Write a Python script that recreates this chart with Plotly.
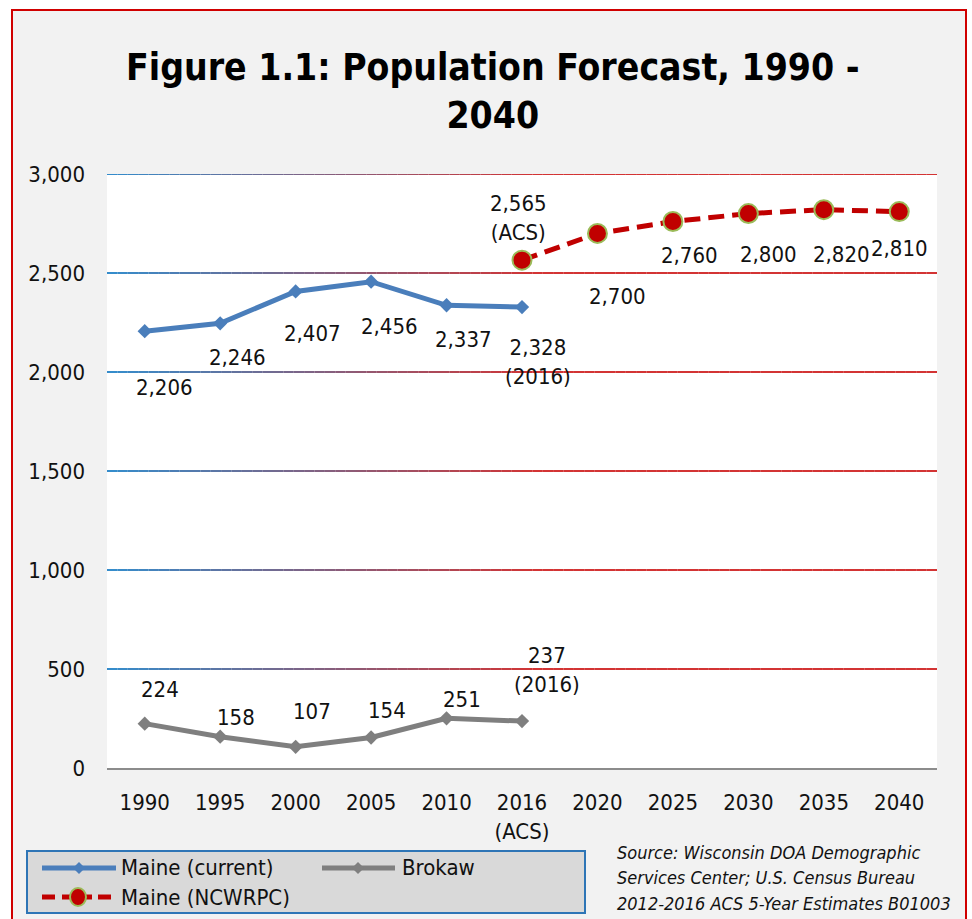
import plotly.graph_objects as go

# ---------------- data ----------------
years = ["1990", "1995", "2000", "2005", "2010", "2016<br>(ACS)",
         "2020", "2025", "2030", "2035", "2040"]
maine_current_idx = [0, 1, 2, 3, 4, 5]
maine_current = [2206, 2246, 2407, 2456, 2337, 2328]
brokaw_idx = [0, 1, 2, 3, 4, 5]
brokaw = [224, 158, 107, 154, 251, 237]
ncwrpc_idx = [5, 6, 7, 8, 9, 10]
ncwrpc = [2565, 2700, 2760, 2800, 2820, 2810]

maine_current_labels = ["2,206", "2,246", "2,407", "2,456", "2,337", "2,328<br>(2016)"]
brokaw_labels = ["224", "158", "107", "154", "251", "237<br>(2016)"]
ncwrpc_labels = ["2,565<br>(ACS)", "2,700", "2,760", "2,800", "2,820", "2,810"]

yticks = [0, 500, 1000, 1500, 2000, 2500, 3000]

# label offsets in pixels (style)
mc_shift = [(20, -56), (17, -34), (17, -42), (18, -45), (17, -34), (16, -55)]
br_shift = [(15, 34), (16, 19), (16, 35), (16, 27), (15, 19), (25, 51)]
nc_shift = [(-4, 42), (20, -63), (17, -34), (20, -41), (18, -45), (0, -37)]

# ---------------- layout geometry ----------------
W, H = 972, 919
L, R, T, B = 107, 35, 174, 151
PW = W - L - R
PH = H - T - B
FONT = "DejaVu Sans Condensed, Liberation Sans Narrow, Liberation Sans, Arial"
TXT = "#111111"
FS = 22


def px(x):
    return (x - L) / PW


def py(y):
    return (H - B - y) / PH


fig = go.Figure()

fig.add_trace(go.Scatter(
    x=brokaw_idx, y=brokaw, mode="lines+markers", name="Brokaw",
    line=dict(color="#7f7f7f", width=5),
    marker=dict(symbol="diamond", size=11, color="#7f7f7f"),
    showlegend=False, hoverinfo="skip"))
fig.add_trace(go.Scatter(
    x=maine_current_idx, y=maine_current, mode="lines+markers", name="Maine (current)",
    line=dict(color="#4a7ebb", width=5),
    marker=dict(symbol="diamond", size=11, color="#4a7ebb"),
    showlegend=False, hoverinfo="skip"))
fig.add_trace(go.Scatter(
    x=ncwrpc_idx, y=ncwrpc, mode="lines+markers", name="Maine (NCWRPC)",
    line=dict(color="#c00000", width=5, dash="16px,8px"),
    marker=dict(symbol="circle", size=19, color="#c00000",
                line=dict(color="#9bbb59", width=2)),
    showlegend=False, hoverinfo="skip"))

# gradient gridlines
nseg = 80
blue = (0, 112, 192)
red = (200, 0, 0)
x0, x1 = -0.5, len(years) - 0.5
for yv in yticks[1:]:
    for i in range(nseg):
        a = x0 + (x1 - x0) * i / nseg
        b = x0 + (x1 - x0) * (i + 1) / nseg
        f = (i + 0.5) / nseg
        t = min(f / 0.52, 1.0)
        c = tuple(int(round(blue[k] + (red[k] - blue[k]) * t)) for k in range(3))
        fig.add_shape(type="line", xref="x", yref="y", x0=a, x1=b, y0=yv, y1=yv,
                      line=dict(color="rgb(%d,%d,%d)" % c, width=1.6), layer="below")

annotations = []


def add_labels(idx, vals, labels, shifts):
    for xi, yv, lab, (dx, dy) in zip(idx, vals, labels, shifts):
        annotations.append(dict(x=xi, y=yv, xref="x", yref="y", text=lab,
                                showarrow=False, xshift=dx, yshift=dy,
                                font=dict(family=FONT, size=FS, color=TXT),
                                xanchor="center", yanchor="middle"))


add_labels(maine_current_idx, maine_current, maine_current_labels, mc_shift)
add_labels(brokaw_idx, brokaw, brokaw_labels, br_shift)
add_labels(ncwrpc_idx, ncwrpc, ncwrpc_labels, nc_shift)

# title
annotations.append(dict(x=px(493), y=py(91), xref="paper", yref="paper",
                        text="<b>Figure 1.1: Population Forecast, 1990 -<br>2040</b>",
                        showarrow=False, xanchor="center", yanchor="middle",
                        font=dict(family=FONT, size=37, color="#000000")))

# source
src_lines = ["Source: Wisconsin DOA Demographic",
             "Services Center; U.S. Census Bureau",
             "2012-2016 ACS 5-Year Estimates B01003"]
for i, s in enumerate(src_lines):
    annotations.append(dict(x=px(615), y=py(852 + 25.5 * i), xref="paper", yref="paper",
                            text="<i>" + s + "</i>", showarrow=False,
                            xanchor="left", yanchor="middle",
                            font=dict(family=FONT, size=18, color=TXT)))

# legend (manual)
shapes = []
shapes.append(dict(type="rect", xref="paper", yref="paper",
                   x0=px(27), x1=px(585), y0=py(851), y1=py(913),
                   fillcolor="#d9d9d9", line=dict(color="#2e75b6", width=2), layer="above"))


def diamond(cx, cy, r, color):
    path = "M %f %f L %f %f L %f %f L %f %f Z" % (
        px(cx), py(cy - r), px(cx + r), py(cy), px(cx), py(cy + r), px(cx - r), py(cy))
    return dict(type="path", xref="paper", yref="paper", path=path,
                fillcolor=color, line=dict(color=color, width=0), layer="above")


shapes.append(dict(type="line", xref="paper", yref="paper", x0=px(42), x1=px(116),
                   y0=py(868), y1=py(868), line=dict(color="#4a7ebb", width=5), layer="above"))
shapes.append(diamond(79, 868, 6, "#4a7ebb"))
shapes.append(dict(type="line", xref="paper", yref="paper", x0=px(322), x1=px(395),
                   y0=py(868), y1=py(868), line=dict(color="#7f7f7f", width=5), layer="above"))
shapes.append(diamond(358, 868, 6, "#7f7f7f"))
for a, b in [(42, 55), (98, 111)]:
    shapes.append(dict(type="line", xref="paper", yref="paper", x0=px(a), x1=px(b),
                       y0=py(897), y1=py(897), line=dict(color="#c00000", width=5),
                       layer="above"))
shapes.append(dict(type="line", xref="paper", yref="paper", x0=px(62), x1=px(92),
                   y0=py(897), y1=py(897), line=dict(color="#c00000", width=5), layer="above"))
shapes.append(dict(type="circle", xref="paper", yref="paper",
                   x0=px(70), x1=px(86), y0=py(906), y1=py(888),
                   fillcolor="#c00000", line=dict(color="#9bbb59", width=2), layer="above"))

for txt, xx, yy in [("Maine (current)", 119, 868), ("Brokaw", 400, 868),
                    ("Maine (NCWRPC)", 119, 897)]:
    annotations.append(dict(x=px(xx), y=py(yy), xref="paper", yref="paper", text=txt,
                            showarrow=False, xanchor="left", yanchor="middle",
                            font=dict(family=FONT, size=FS, color=TXT)))

# white page margins outside the red frame
for (a, b, c, d) in [(0, 12, -20, 940), (966, 972, -20, 940), (0, 972, -20, 10)]:
    shapes.append(dict(type="rect", xref="paper", yref="paper",
                       x0=px(a), x1=px(b), y0=py(d), y1=py(c),
                       fillcolor="#ffffff", line=dict(width=0), layer="above"))
shapes.append(dict(type="rect", xref="paper", yref="paper",
                   x0=px(12), x1=px(966), y0=py(935), y1=py(10),
                   fillcolor="rgba(0,0,0,0)", line=dict(color="#d00000", width=2),
                   layer="above"))

for s in shapes:
    fig.add_shape(**s)

fig.update_layout(
    width=W, height=H,
    margin=dict(l=L, r=R, t=T, b=B, pad=0),
    paper_bgcolor="#f2f2f2", plot_bgcolor="#ffffff",
    showlegend=False,
    annotations=annotations,
    font=dict(family=FONT, size=FS, color=TXT),
    xaxis=dict(range=[x0, x1], tickmode="array",
               tickvals=list(range(len(years))), ticktext=years,
               showgrid=False, zeroline=False, showline=True,
               linecolor="#8c8c8c", linewidth=2, ticks="", ticklabelstandoff=14,
               tickfont=dict(family=FONT, size=FS, color=TXT), fixedrange=True),
    yaxis=dict(range=[0, 3000], tickmode="array", tickvals=yticks,
               ticktext=["{:,}".format(v) for v in yticks],
               showgrid=False, zeroline=False, showline=False, ticks="",
               ticklabelstandoff=21,
               tickfont=dict(family=FONT, size=FS, color=TXT), fixedrange=True),
)

fig.write_html("out.html")
